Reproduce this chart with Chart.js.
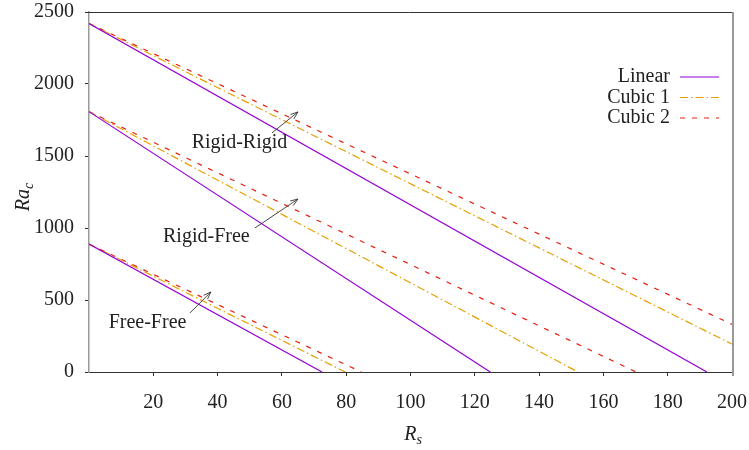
<!DOCTYPE html>
<html><head><meta charset="utf-8">
<script src="https://cdn.jsdelivr.net/npm/chart.js@4"></script>
<style>html,body{margin:0;padding:0;background:#fff}#wrap{width:749px;height:450px;position:relative}</style>
</head><body><div id="wrap"><canvas id="c" width="749" height="450"></canvas></div>
<script>
// ---- data: [Rs, Ra_c] endpoints of each straight line ----
const seriesNames = ['Linear', 'Cubic 1', 'Cubic 2'];
const rigidRigidLinear = [[0, 2420], [192.2, 0]];
const rigidRigidCubic1 = [[0, 2420], [200, 194]];
const rigidRigidCubic2 = [[0, 2420], [200, 331]];
const rigidFreeLinear  = [[0, 1808], [124.8, 0]];
const rigidFreeCubic1  = [[0, 1808], [152.1, 0]];
const rigidFreeCubic2  = [[0, 1808], [170.2, 0]];
const freeFreeLinear   = [[0, 888], [72.5, 0]];
const freeFreeCubic1   = [[0, 888], [79.7, 0]];
const freeFreeCubic2   = [[0, 888], [84.7, 0]];
const xTickValues = [20, 40, 60, 80, 100, 120, 140, 160, 180, 200];
const yTickValues = [0, 500, 1000, 1500, 2000, 2500];
const caseLabels = ['Rigid-Rigid', 'Rigid-Free', 'Free-Free'];
const caseLabelAt = [[46.8, 1590], [36.5, 937], [18.2, 340]];
const arrowTail = [[56.9, 1660], [51.6, 1000], [31.4, 410]];
const arrowHead = [[65.0, 1806], [65.0, 1201], [37.9, 556]];

// ---- styles ----
const FONT = "'Liberation Serif', 'DejaVu Serif', serif";
const styles = [
  { color: '#9400D3', dash: [] },
  { color: '#E69F00', dash: [8, 3, 1.5, 3] },
  { color: '#E51E10', dash: [5, 7] }
];
const groups = [
  [rigidRigidLinear, rigidRigidCubic1, rigidRigidCubic2],
  [rigidFreeLinear, rigidFreeCubic1, rigidFreeCubic2],
  [freeFreeLinear, freeFreeCubic1, freeFreeCubic2]
];
const datasets = [];
groups.forEach((g, gi) => g.forEach((pts, si) => {
  datasets.push({
    label: seriesNames[si],
    data: pts.map(p => ({ x: p[0], y: p[1] })),
    borderColor: styles[si].color,
    borderDash: styles[si].dash,
    borderWidth: 1.2,
    pointRadius: 0,
    showLine: true,
    fill: false,
    tension: 0
  });
}));

const overlay = {
  id: 'overlay',
  afterDraw(chart) {
    const ctx = chart.ctx, a = chart.chartArea;
    const xs = chart.scales.x, ys = chart.scales.y;
    ctx.save();
    // top border
    ctx.strokeStyle = '#333'; ctx.lineWidth = 1;
    ctx.beginPath(); ctx.moveTo(a.left - 3, a.top + 0.5); ctx.lineTo(a.right + 1, a.top + 0.5); ctx.stroke();
    // right border
    ctx.strokeStyle = '#999'; ctx.lineWidth = 2;
    ctx.beginPath(); ctx.moveTo(a.right + 1, a.top); ctx.lineTo(a.right + 1, a.bottom + 4); ctx.stroke();

    // case labels and arrows
    ctx.fillStyle = '#222'; ctx.font = '20px ' + FONT;
    ctx.textAlign = 'center'; ctx.textBaseline = 'middle';
    caseLabels.forEach((t, i) => {
      ctx.fillText(t, xs.getPixelForValue(caseLabelAt[i][0]), ys.getPixelForValue(caseLabelAt[i][1]));
      const x0 = xs.getPixelForValue(arrowTail[i][0]), y0 = ys.getPixelForValue(arrowTail[i][1]);
      const x1 = xs.getPixelForValue(arrowHead[i][0]), y1 = ys.getPixelForValue(arrowHead[i][1]);
      ctx.strokeStyle = '#333'; ctx.lineWidth = 0.9; ctx.setLineDash([]);
      ctx.beginPath(); ctx.moveTo(x0, y0); ctx.lineTo(x1, y1); ctx.stroke();
      const ang = Math.atan2(y1 - y0, x1 - x0), L = 8, w = 0.35;
      ctx.beginPath();
      ctx.moveTo(x1 - L * Math.cos(ang - w), y1 - L * Math.sin(ang - w));
      ctx.lineTo(x1, y1);
      ctx.lineTo(x1 - L * Math.cos(ang + w), y1 - L * Math.sin(ang + w));
      ctx.stroke();
    });

    // legend
    ctx.textAlign = 'right'; ctx.textBaseline = 'middle';
    seriesNames.forEach((n, i) => {
      const y = 77 + i * 20.5;
      ctx.fillStyle = '#222';
      ctx.fillText(n, 670, y);
      ctx.strokeStyle = styles[i].color; ctx.lineWidth = 1.2;
      ctx.setLineDash(styles[i].dash);
      ctx.beginPath(); ctx.moveTo(680, y); ctx.lineTo(719, y); ctx.stroke();
    });
    ctx.setLineDash([]);

    // axis titles
    ctx.fillStyle = '#222';
    ctx.textBaseline = 'alphabetic'; ctx.textAlign = 'left';
    const big = 'italic 20px ' + FONT, small = 'italic 14px ' + FONT;
    ctx.save();
    ctx.translate(29, 197);
    ctx.rotate(-Math.PI / 2);
    ctx.font = big; const w1 = ctx.measureText('Ra').width;
    ctx.font = small; const w2 = ctx.measureText('c').width;
    let sx = -(w1 + w2) / 2;
    ctx.font = big; ctx.fillText('Ra', sx, 0);
    ctx.font = small; ctx.fillText('c', sx + w1, 4);
    ctx.restore();
    ctx.font = big; const w3 = ctx.measureText('R').width;
    ctx.font = small; const w4 = ctx.measureText('s').width;
    sx = 413 - (w3 + w4) / 2;
    ctx.font = big; ctx.fillText('R', sx, 440);
    ctx.font = small; ctx.fillText('s', sx + w3, 444);
    ctx.restore();
  }
};

new Chart(document.getElementById('c'), {
  type: 'scatter',
  data: { datasets },
  options: {
    responsive: false,
    animation: false,
    events: [],
    layout: { padding: { top: 12, right: 17, left: 0, bottom: 0 } },
    plugins: { legend: { display: false }, tooltip: { enabled: false } },
    scales: {
      x: {
        type: 'linear', min: 0, max: 200,
        afterBuildTicks: s => { s.ticks = xTickValues.map(v => ({ value: v })); },
        afterFit: s => { s.height = 78; s.paddingLeft = 0; s.paddingRight = 0; s.paddingTop = 0; s.paddingBottom = 0; },
        grid: { drawOnChartArea: false, tickLength: 4, color: '#333' },
        border: { color: '#333', width: 1 },
        ticks: { font: { family: FONT, size: 20 }, color: '#222', padding: 15, maxRotation: 0, autoSkip: false,
                 callback: v => String(v) }
      },
      y: {
        type: 'linear', min: 0, max: 2500,
        afterBuildTicks: s => { s.ticks = yTickValues.map(v => ({ value: v })); },
        afterFit: s => { s.width = 89; s.paddingLeft = 0; s.paddingRight = 0; s.paddingTop = 0; s.paddingBottom = 0; },
        grid: { drawOnChartArea: false, tickLength: 4, color: '#333' },
        border: { color: '#999', width: 1.5 },
        ticks: { font: { family: FONT, size: 20 }, color: '#222', padding: 11, autoSkip: false,
                 callback: v => String(v) }
      }
    }
  },
  plugins: [overlay]
});
</script>
</body></html>
